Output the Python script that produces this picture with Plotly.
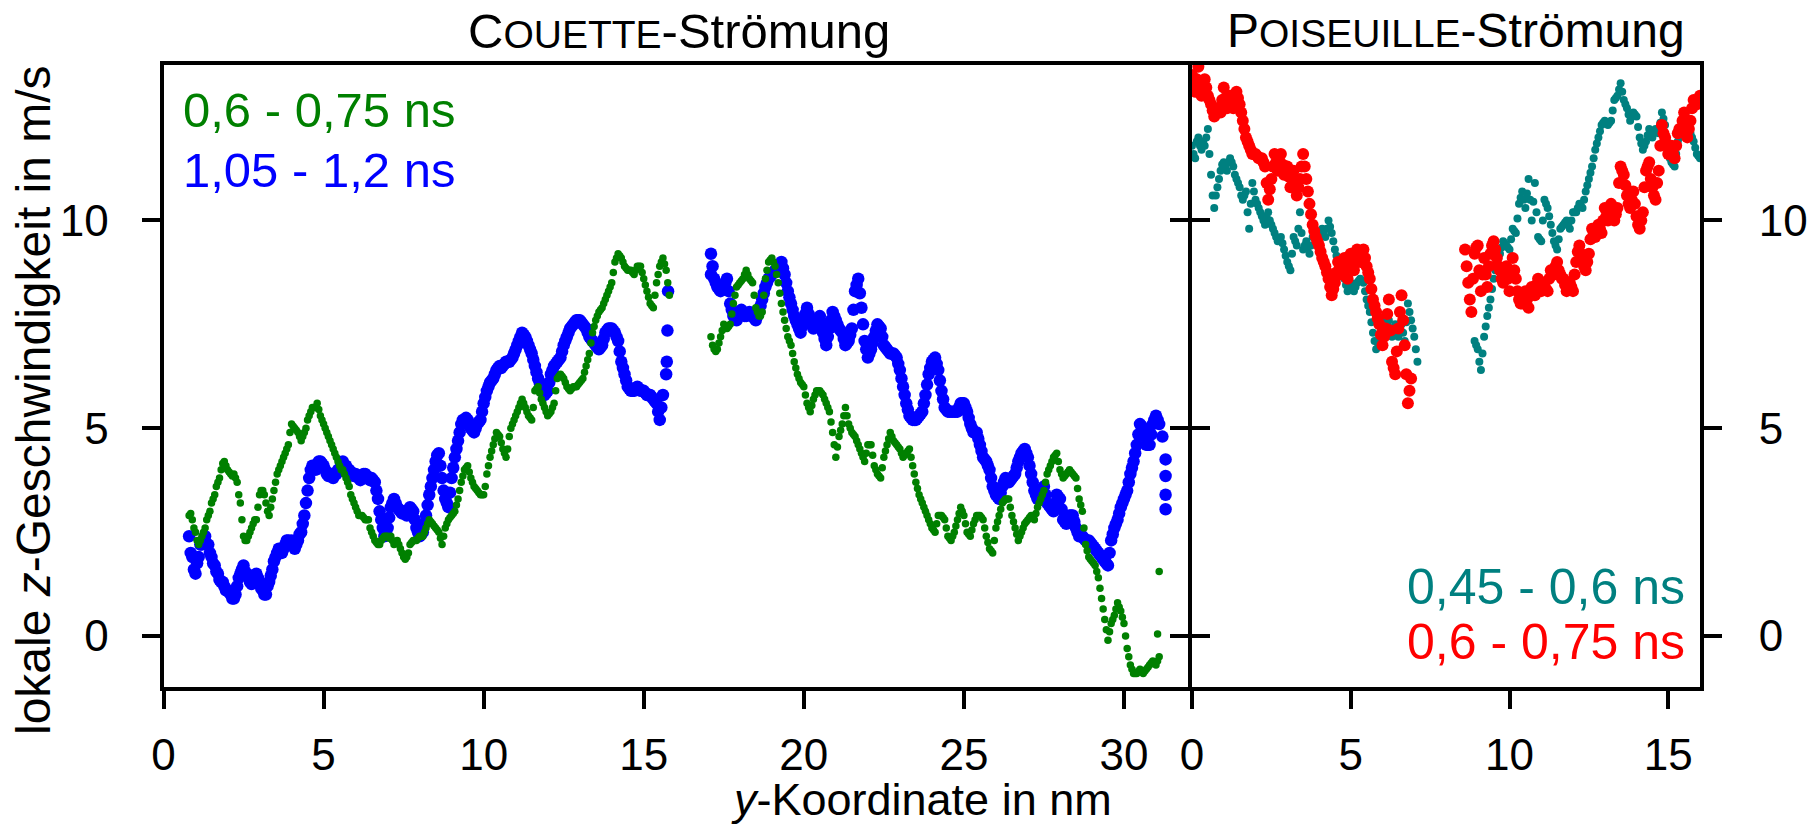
import numpy as np
import plotly.graph_objects as go

# ---------------- data: local z-velocity (m/s) vs y-coordinate (nm) ----------------
# Each segment is sampled on a 0.1 nm grid ("main") plus the values read at the
# half-steps in between ("mid", starting 0.05 nm after the segment start).
STEP = 0.1

# Couette flow, 0.6 - 0.75 ns (green)
couette_green_a_start = 0.8
couette_green_a_main = [
    2.9, 2.8, 2.5, 2.2, 2.4, 2.6, 2.9, 3.2, 3.4, 3.7,
    4.0, 4.2, 4.0, 3.9, 3.9, 3.7, 3.2, 2.4, 2.3, 2.5,
    2.7, 2.8, 3.4, 3.5, 3.2, 2.9, 3.3, 3.7, 4.0, 4.2,
    4.4, 4.6, 5.1, 5.0, 4.9, 4.7, 4.9, 5.2, 5.4, 5.5,
    5.6, 5.3, 5.1, 4.9, 4.7, 4.5, 4.3, 4.1, 4.0, 3.8,
    3.6, 3.3, 3.1, 2.9, 2.9, 2.8, 2.8, 2.5, 2.3, 2.2,
    2.3, 2.4, 2.4, 2.4, 2.2, 2.3, 2.1, 1.9, 1.9, 2.2,
    2.3, 2.3, 2.4, 2.4, 2.6, 2.8, 2.7, 2.6, 2.5, 2.2,
    2.6, 2.8, 2.9, 3.0, 3.3, 3.7, 4.0, 4.1, 3.8, 3.6,
    3.5, 3.4, 3.4, 3.9, 4.3, 4.6, 4.9, 4.8, 4.5, 4.3,
    4.8, 5.1, 5.3, 5.5, 5.7, 5.5, 5.3, 5.2, 5.9, 6.0,
    5.7, 5.5, 5.3, 5.4, 5.6, 6.2, 6.3, 6.2, 6.0, 5.9,
    6.0, 6.0, 6.1, 6.2, 6.5, 6.8, 7.3, 7.6, 7.8, 7.9,
    8.1, 8.3, 8.5, 9.0, 9.2, 9.1, 8.9, 8.8, 8.8, 8.7,
    8.9, 8.9, 8.6, 8.3, 8.0, 7.9, 8.5, 8.9, 9.1, 8.8,
    8.2,
]
couette_green_a_mid = [
    2.95, 2.6, 2.3, 2.3, 2.5, 2.8, 3.0, 3.3, 3.6, 3.8,
    4.15, 4.1, 3.95, 3.85, 3.8, 3.4, 2.8, 2.3, 2.4, 2.6,
    2.8, 3.1, 3.5, 3.4, 3.0, 3.1, 3.5, 3.9, 4.1, 4.3,
    4.5, 4.9, 5.05, 4.95, 4.8, 4.8, 5.0, 5.3, 5.5, 5.5,
    5.45, 5.2, 5.0, 4.8, 4.6, 4.4, 4.2, 4.0, 3.9, 3.7,
    3.4, 3.2, 3.0, 2.9, 2.85, 2.8, 2.6, 2.4, 2.25, 2.2,
    2.35, 2.4, 2.35, 2.3, 2.25, 2.2, 2.0, 1.85, 2.0, 2.25,
    2.3, 2.35, 2.4, 2.5, 2.7, 2.75, 2.65, 2.55, 2.35, 2.4,
    2.7, 2.85, 2.95, 3.15, 3.5, 3.85, 4.05, 3.95, 3.7, 3.55,
    3.45, 3.4, 3.6, 4.1, 4.45, 4.75, 4.85, 4.65, 4.4, 4.5,
    5.0, 5.2, 5.4, 5.6, 5.6, 5.4, 5.25, 5.5, 5.95, 5.85,
    5.6, 5.4, 5.35, 5.5, 5.9, 6.25, 6.25, 6.1, 5.95, 5.95,
    6.0, 6.05, 6.15, 6.35, 6.65, 7.05, 7.45, 7.7, 7.85, 8.0,
    8.2, 8.4, 8.75, 9.1, 9.15, 9.0, 8.85, 8.8, 8.75, 8.8,
    8.9, 8.75, 8.45, 8.15, 7.95, 8.2, 8.7, 9.0, 8.95, 8.5,
]
couette_green_b_start = 17.1
couette_green_b_main = [
    7.2, 6.9, 6.9, 7.2, 7.5, 7.4, 7.5, 8.0, 8.4, 8.5,
    8.6, 8.8, 8.6, 8.5, 7.9, 7.7, 7.8, 8.6, 9.0, 9.1,
    8.9, 8.5, 8.0, 7.6, 7.2, 7.0, 6.6, 6.3, 6.1, 6.0,
    5.6, 5.4, 5.7, 5.9, 5.9, 5.8, 5.6, 5.4, 4.9, 4.3,
    4.8, 5.1, 5.5, 5.1, 4.9, 4.8, 4.6, 4.4, 4.2, 4.6,
    4.6, 4.1, 3.9, 3.8, 4.3, 4.6, 4.9, 4.7, 4.6, 4.5,
    4.3, 4.4, 4.5, 4.1, 3.7, 3.4, 3.2, 3.0, 2.8, 2.6,
    2.5, 2.9, 2.9, 2.8, 2.4, 2.3, 2.5, 2.8, 3.1, 2.9,
    2.5, 2.4, 2.7, 2.9, 2.9, 2.8, 2.4, 2.1, 2.0, 2.6,
    2.9, 3.2, 3.3, 3.3, 2.9, 2.6, 2.3, 2.5, 2.7, 2.8,
    2.9, 2.8, 3.1, 3.3, 3.5, 3.9, 4.1, 4.3, 4.4, 4.0,
    3.8, 3.9, 4.0, 3.9, 3.8, 3.3, 3.0, 2.2, 1.9, 1.8,
    1.7, 1.4, 0.9, 0.4, -0.1, 0.3, 0.5, 0.8, 0.6, 0.3,
    -0.3, -0.7, -0.9, -0.9, -0.8, -0.9, -0.8, -0.7, -0.6, -0.7,
    -0.5,
]
couette_green_b_mid = [
    7.0, 6.85, 7.05, 7.35, 7.45, 7.45, 7.75, 8.2, 8.45, 8.55,
    8.7, 8.7, 8.55, 8.2, 7.8, 7.7, 8.2, 8.8, 9.05, 9.0,
    8.7, 8.25, 7.8, 7.4, 7.1, 6.8, 6.45, 6.2, 6.05, 5.8,
    5.5, 5.55, 5.8, 5.9, 5.85, 5.7, 5.5, 5.15, 4.6, 4.55,
    4.95, 5.3, 5.3, 5.0, 4.85, 4.7, 4.5, 4.3, 4.4, 4.6,
    4.35, 4.0, 3.85, 4.05, 4.45, 4.75, 4.8, 4.65, 4.55, 4.4,
    4.35, 4.45, 4.3, 3.9, 3.55, 3.3, 3.1, 2.9, 2.7, 2.55,
    2.7, 2.9, 2.85, 2.6, 2.35, 2.4, 2.65, 2.95, 3.0, 2.7,
    2.45, 2.55, 2.8, 2.9, 2.85, 2.6, 2.25, 2.05, 2.3, 2.75,
    3.05, 3.25, 3.3, 3.1, 2.75, 2.45, 2.4, 2.6, 2.75, 2.85,
    2.85, 2.95, 3.2, 3.4, 3.7, 4.0, 4.2, 4.35, 4.2, 3.9,
    3.85, 3.95, 3.95, 3.85, 3.55, 3.15, 2.6, 2.05, 1.85, 1.75,
    1.55, 1.15, 0.65, 0.15, 0.1, 0.4, 0.65, 0.7, 0.45, 0.0,
    -0.5, -0.8, -0.9, -0.85, -0.85, -0.85, -0.75, -0.65, -0.65, -0.6,
]
couette_green_extra_x = [31.05, 31.1]
couette_green_extra_y = [0.05, 1.55]

# Couette flow, 1.05 - 1.2 ns (blue)
couette_blue_a_start = 0.8
couette_blue_a_main = [
    2.4, 1.9, 1.5, 1.9, 2.2, 2.4, 2.2, 1.9, 1.7, 1.5,
    1.3, 1.2, 1.1, 1.0, 0.9, 1.2, 1.5, 1.7, 1.5, 1.3,
    1.3, 1.5, 1.3, 1.1, 1.0, 1.3, 1.6, 1.9, 2.1, 2.0,
    2.2, 2.3, 2.3, 2.1, 2.3, 2.5, 2.9, 3.5, 4.0, 4.1,
    4.1, 4.2, 4.1, 3.9, 3.9, 3.8, 3.9, 4.0, 4.2, 4.1,
    4.0, 3.9, 3.9, 3.8, 3.8, 3.9, 3.8, 3.8, 3.7, 3.3,
    2.8, 2.4, 2.6, 3.1, 3.3, 3.1, 3.0, 3.0, 2.9, 3.1,
    3.0, 2.6, 2.4, 2.5, 2.9, 3.4, 3.8, 4.2, 4.4, 3.8,
    3.3, 3.1, 3.8, 4.3, 4.7, 5.1, 5.2, 5.2, 5.0, 4.9,
    5.1, 5.2, 5.6, 5.9, 6.1, 6.2, 6.4, 6.5, 6.5, 6.6,
    6.6, 6.7, 6.9, 7.1, 7.3, 7.2, 7.0, 6.8, 6.5, 6.2,
    6.0, 5.8, 5.9, 6.3, 6.5, 6.6, 6.7, 7.0, 7.2, 7.4,
    7.5, 7.6, 7.6, 7.5, 7.4, 7.2, 7.1, 7.0, 6.9, 7.0,
    7.3, 7.4, 7.4, 7.3, 7.1, 6.6, 6.3, 6.0, 5.9, 5.9,
    6.0, 5.9, 5.9, 5.8, 5.8, 5.7, 5.6, 5.2, 5.8,
]
couette_blue_a_mid = [
    2.0, 1.6, 1.75, 2.2, 2.3, 2.2, 2.0, 1.75, 1.55, 1.35,
    1.3, 1.1, 1.05, 0.9, 1.0, 1.4, 1.6, 1.55, 1.4, 1.25,
    1.45, 1.4, 1.15, 1.0, 1.2, 1.45, 1.8, 2.0, 2.0, 2.1,
    2.3, 2.2, 2.2, 2.2, 2.45, 2.7, 3.2, 3.8, 4.1, 4.0,
    4.2, 4.15, 4.0, 3.85, 3.9, 3.9, 4.0, 4.15, 4.1, 4.0,
    3.95, 3.85, 3.85, 3.75, 3.9, 3.85, 3.75, 3.75, 3.5, 3.0,
    2.6, 2.5, 2.85, 3.2, 3.2, 3.05, 2.95, 2.95, 3.0, 3.05,
    2.8, 2.5, 2.45, 2.7, 3.15, 3.6, 4.0, 4.35, 4.1, 3.5,
    3.2, 3.45, 4.05, 4.5, 4.9, 5.2, 5.25, 5.1, 4.95, 5.0,
    5.15, 5.4, 5.75, 6.0, 6.15, 6.3, 6.45, 6.45, 6.55, 6.6,
    6.65, 6.8, 7.0, 7.2, 7.25, 7.1, 6.9, 6.65, 6.35, 6.1,
    5.9, 5.85, 6.1, 6.4, 6.55, 6.65, 6.85, 7.1, 7.3, 7.45,
    7.55, 7.6, 7.55, 7.45, 7.3, 7.15, 7.05, 6.95, 6.95, 7.15,
    7.35, 7.4, 7.35, 7.2, 6.85, 6.45, 6.15, 5.95, 5.9, 5.95,
    5.95, 5.9, 5.85, 5.8, 5.75, 5.65, 5.4, 5.5,
]
couette_blue_a_tail_x = [15.7, 15.72, 15.74, 15.76]
couette_blue_a_tail_y = [6.3, 6.6, 7.35, 8.3]
couette_blue_b_start = 17.1
couette_blue_b_main = [
    9.2, 8.6, 8.4, 8.3, 8.4, 8.6, 8.0, 7.7, 7.6, 7.8,
    7.8, 7.7, 7.8, 7.7, 7.6, 7.8, 8.1, 8.4, 8.6, 8.7,
    8.8, 8.8, 9.0, 8.7, 8.3, 8.0, 7.7, 7.5, 7.3, 7.6,
    7.9, 7.6, 7.4, 7.5, 7.7, 7.3, 7.0, 7.4, 7.8, 7.6,
    7.4, 7.3, 7.0, 7.1, 7.4, 8.3, 8.6, 7.9, 7.1, 6.7,
    6.9, 7.2, 7.5, 7.4, 7.0, 6.9, 6.8, 6.8, 6.7, 6.4,
    6.0, 5.6, 5.3, 5.2, 5.2, 5.3, 5.4, 5.8, 6.3, 6.6,
    6.7, 6.4, 5.9, 5.5, 5.4, 5.4, 5.4, 5.4, 5.6, 5.6,
    5.4, 5.1, 4.9, 4.9, 4.6, 4.3, 4.2, 4.0, 3.6, 3.4,
    3.3, 3.6, 3.8, 3.7, 3.8, 3.9, 4.2, 4.4, 4.5, 4.3,
    3.9, 3.5, 3.3, 3.5, 3.6, 3.2, 3.1, 3.0, 3.4, 3.3,
    2.8, 2.7, 2.9, 2.9, 2.6, 2.4, 2.4, 2.3, 2.3, 2.2,
    2.1, 2.0, 1.9, 1.8, 1.7, 2.3, 2.6, 2.8, 3.1, 3.3,
    3.5, 3.9, 4.2, 4.6, 5.1, 5.0, 4.6, 4.6, 5.1, 5.3,
    5.1,
]
couette_blue_b_mid = [
    8.9, 8.5, 8.35, 8.35, 8.5, 8.3, 7.85, 7.65, 7.7, 7.85,
    7.7, 7.75, 7.75, 7.65, 7.7, 7.95, 8.25, 8.5, 8.65, 8.75,
    8.8, 8.9, 8.85, 8.5, 8.15, 7.85, 7.6, 7.4, 7.45, 7.75,
    7.75, 7.5, 7.45, 7.6, 7.5, 7.15, 7.2, 7.6, 7.7, 7.5,
    7.35, 7.15, 7.05, 7.25, 7.85, 8.45, 8.25, 7.5, 6.9, 6.8,
    7.05, 7.35, 7.45, 7.2, 6.95, 6.85, 6.8, 6.75, 6.55, 6.2,
    5.8, 5.45, 5.25, 5.2, 5.25, 5.35, 5.6, 6.05, 6.45, 6.65,
    6.55, 6.15, 5.7, 5.45, 5.4, 5.4, 5.4, 5.5, 5.6, 5.5,
    5.25, 5.0, 4.9, 4.75, 4.45, 4.25, 4.1, 3.8, 3.5, 3.35,
    3.45, 3.7, 3.75, 3.75, 3.85, 4.05, 4.3, 4.45, 4.4, 4.1,
    3.7, 3.4, 3.4, 3.55, 3.4, 3.15, 3.05, 3.2, 3.35, 3.05,
    2.75, 2.8, 2.9, 2.75, 2.5, 2.4, 2.35, 2.3, 2.25, 2.15,
    2.05, 1.95, 1.85, 1.75, 2.0, 2.45, 2.7, 2.95, 3.2, 3.4,
    3.7, 4.05, 4.4, 4.85, 5.05, 4.8, 4.6, 4.85, 5.2, 5.2,
]
couette_blue_b_extra_x = [17.1, 31.2, 31.3, 31.3, 31.3, 31.3]
couette_blue_b_extra_y = [8.7, 4.8, 4.25, 3.85, 3.4, 3.05]

# Poiseuille flow, 0.45 - 0.6 ns (teal)
poiseuille_teal_a_start = 0.0
poiseuille_teal_a_main = [
    11.8, 11.5, 12.0, 11.7, 11.8, 12.2, 11.1, 10.3, 10.8, 11.2,
    11.4, 11.2, 11.5, 11.3, 11.0, 10.8, 10.5, 10.7, 9.8, 10.9,
    10.5, 10.3, 10.1, 9.9, 10.2, 9.9, 9.7, 9.5, 9.6, 9.3,
    9.0, 8.8, 9.6, 9.4, 10.2, 9.3, 9.5, 9.2, 9.6, 9.7,
    9.5, 9.8, 9.6, 10.0, 9.7, 9.3, 9.0, 8.8, 8.6, 8.3,
    8.5, 8.3, 8.5, 8.6, 8.5, 8.1, 7.8, 7.3, 6.9, 7.2,
    7.6, 7.4, 7.6, 7.2, 7.5, 7.2, 7.5, 7.1, 8.0, 7.6,
    7.2, 6.6,
]
poiseuille_teal_a_mid = [
    11.6, 11.9, 11.8, 11.9, 12.0, 11.6, 10.6, 10.6, 11.0, 11.35,
    11.3, 11.4, 11.4, 11.1, 10.9, 10.6, 10.6, 10.2, 10.4, 10.7,
    10.4, 10.2, 10.0, 10.1, 10.0, 9.8, 9.6, 9.55, 9.45, 9.15,
    8.9, 9.2, 9.5, 9.8, 9.7, 9.4, 9.35, 9.4, 9.65, 9.6,
    9.65, 9.7, 9.8, 9.85, 9.5, 9.15, 8.9, 8.7, 8.45, 8.4,
    8.4, 8.4, 8.55, 8.55, 8.3, 7.95, 7.55, 7.1, 7.05, 7.4,
    7.5, 7.5, 7.4, 7.35, 7.35, 7.35, 7.3, 7.55, 7.8, 7.4,
    6.9,
]
poiseuille_teal_b_start = 8.9
poiseuille_teal_b_main = [
    7.1, 6.9, 6.4, 7.2, 7.7, 8.1, 8.6, 9.0, 9.2, 9.5,
    9.4, 9.3, 9.8, 9.7, 10.4, 10.7, 10.3, 11.0, 10.0, 10.9,
    9.6, 9.5, 10.5, 10.3, 9.9, 9.5, 9.3, 9.8, 9.9, 10.0,
    9.8, 10.2, 10.2, 10.4, 10.3, 10.7, 11.0, 11.3, 11.7, 12.0,
    12.3, 12.4, 12.3, 12.4, 12.9, 13.0, 13.3, 12.9, 12.7, 12.4,
    12.6, 12.5, 12.0, 11.7, 11.9, 12.2, 12.0, 12.2, 12.1, 12.6,
    12.3, 11.6, 11.4, 11.3, 11.9, 12.1, 12.2, 12.0, 12.1, 11.9,
    11.6, 11.5,
]
poiseuille_teal_b_mid = [
    7.0, 6.6, 6.8, 7.45, 7.9, 8.35, 8.8, 9.1, 9.35, 9.45,
    9.35, 9.55, 9.75, 10.05, 10.55, 10.5, 10.65, 10.5, 10.45, 10.2,
    9.55, 10.0, 10.4, 10.1, 9.7, 9.4, 9.55, 9.85, 9.95, 9.9,
    10.0, 10.2, 10.3, 10.35, 10.5, 10.85, 11.15, 11.5, 11.85, 12.15,
    12.35, 12.35, 12.35, 12.65, 12.95, 13.15, 13.1, 12.8, 12.55, 12.5,
    12.55, 12.25, 11.85, 11.8, 12.05, 12.1, 12.1, 12.15, 12.35, 12.45,
    11.95, 11.5, 11.35, 11.6, 12.0, 12.15, 12.1, 12.05, 12.0, 11.75,
    11.55,
]

# Poiseuille flow, 0.6 - 0.75 ns (red)
poiseuille_red_a_start = 0.0
poiseuille_red_a_main = [
    13.5, 13.1, 13.7, 13.0, 13.4, 13.0, 12.8, 12.5, 12.7, 12.6,
    13.2, 12.7, 13.0, 12.7, 13.1, 12.8, 12.4, 12.0, 11.8, 11.6,
    11.6, 11.5, 11.5, 11.3, 10.5, 11.0, 11.6, 11.2, 11.6, 11.1,
    11.3, 10.8, 11.2, 10.6, 11.0, 11.6, 11.0, 10.4, 9.9, 9.6,
    9.4, 9.1, 8.9, 8.6, 8.2, 8.5, 9.0, 8.7, 9.1, 8.6,
    9.2, 8.8, 9.3, 9.0, 9.3, 8.9, 8.6, 8.1, 7.8, 7.5,
    7.0, 7.4, 8.1, 6.6, 6.3, 7.4, 8.2, 7.0, 5.6, 6.2,
]
poiseuille_red_a_mid = [
    13.3, 13.4, 13.35, 13.2, 13.2, 12.9, 12.65, 12.6, 12.65, 12.9,
    12.95, 12.85, 12.85, 12.9, 12.95, 12.6, 12.2, 11.9, 11.7, 11.6,
    11.55, 11.5, 11.4, 10.9, 10.75, 11.3, 11.4, 11.4, 11.35, 11.2,
    11.05, 11.0, 10.9, 10.8, 11.3, 11.3, 10.7, 10.15, 9.75, 9.5,
    9.25, 9.0, 8.75, 8.4, 8.35, 8.75, 8.85, 8.9, 8.85, 8.9,
    9.0, 9.05, 9.15, 9.15, 9.1, 8.75, 8.35, 7.95, 7.65, 7.25,
    7.2, 7.75, 7.35, 6.45, 6.85, 7.8, 7.6, 6.3, 5.9,
]
poiseuille_red_b_start = 8.6
poiseuille_red_b_main = [
    9.3, 8.5, 7.8, 9.2, 9.4, 8.3, 9.1, 8.4, 9.2, 9.5,
    9.1, 8.8, 8.5, 8.9, 8.3, 9.1, 8.6, 8.1, 8.0, 8.3,
    7.9, 8.4, 8.2, 8.6, 8.3, 8.5, 8.3, 8.8, 8.7, 9.0,
    8.7, 8.6, 8.3, 8.5, 8.3, 9.0, 9.4, 9.1, 8.8, 9.2,
    9.8, 9.6, 9.9, 9.7, 10.3, 10.0, 10.4, 10.0, 10.3, 11.3,
    11.1, 10.6, 10.3, 10.7, 10.1, 9.8, 10.2, 11.2, 11.4, 10.8,
    10.5, 11.2, 12.3, 12.0, 11.6, 11.8, 11.5, 12.1, 12.2, 12.6,
    12.0, 12.4, 12.9, 12.8, 13.0,
]
poiseuille_red_b_mid = [
    8.9, 8.1, 8.6, 9.35, 8.8, 8.7, 8.7, 8.9, 9.4, 9.3,
    8.9, 8.6, 8.75, 8.6, 8.7, 8.8, 8.3, 8.0, 8.15, 8.1,
    8.2, 8.3, 8.45, 8.4, 8.45, 8.35, 8.6, 8.7, 8.9, 8.8,
    8.6, 8.45, 8.4, 8.4, 8.7, 9.25, 9.2, 8.9, 9.0, 9.55,
    9.7, 9.75, 9.8, 10.0, 10.1, 10.2, 10.2, 10.15, 10.9, 11.2,
    10.85, 10.4, 10.5, 10.4, 9.9, 10.0, 10.8, 11.3, 11.0, 10.6,
    10.9, 11.8, 12.1, 11.8, 11.7, 11.6, 11.8, 12.2, 12.4, 12.3,
    12.2, 12.7, 12.85, 12.9,
]

x_ticks_couette = [0, 5, 10, 15, 20, 25, 30]
x_ticks_poiseuille = [0, 5, 10, 15]
y_ticks = [0, 5, 10]


def grid(start, values):
    return np.round(start + STEP * np.arange(len(values)), 3)


def segment(start, main, mid):
    xs = np.concatenate([grid(start, main), grid(start + STEP / 2, mid)])
    ys = list(main) + list(mid)
    return list(xs), ys


GREEN = "#008000"
BLUE = "#0000ff"
TEAL = "#008080"
RED = "#ff0000"
FONT = "Liberation Sans, Arial, sans-serif"

W, H = 1820, 827


def px(x):
    return x / W


def py(y):
    return 1 - y / H


fig = go.Figure()


def add_points(xs, ys, color, size, xa, ya):
    fig.add_trace(go.Scatter(x=list(xs), y=list(ys), mode="markers", xaxis=xa, yaxis=ya,
                             hoverinfo="skip",
                             marker=dict(color=color, size=size, line=dict(width=0))))


S_BLUE, S_GREEN, S_TEAL, S_RED = 12.5, 7.5, 8, 12

# left panel: blue below, green on top
add_points(*segment(couette_blue_a_start, couette_blue_a_main, couette_blue_a_mid), BLUE, S_BLUE, "x", "y")
add_points(couette_blue_a_tail_x, couette_blue_a_tail_y, BLUE, S_BLUE, "x", "y")
add_points(*segment(couette_blue_b_start, couette_blue_b_main, couette_blue_b_mid), BLUE, S_BLUE, "x", "y")
add_points(couette_blue_b_extra_x, couette_blue_b_extra_y, BLUE, S_BLUE, "x", "y")
add_points(*segment(couette_green_a_start, couette_green_a_main, couette_green_a_mid), GREEN, S_GREEN, "x", "y")
add_points(*segment(couette_green_b_start, couette_green_b_main, couette_green_b_mid), GREEN, S_GREEN, "x", "y")
add_points(couette_green_extra_x, couette_green_extra_y, GREEN, S_GREEN, "x", "y")

# right panel: teal below, red on top
add_points(*segment(poiseuille_teal_a_start, poiseuille_teal_a_main, poiseuille_teal_a_mid), TEAL, S_TEAL, "x2", "y2")
add_points(*segment(poiseuille_teal_b_start, poiseuille_teal_b_main, poiseuille_teal_b_mid), TEAL, S_TEAL, "x2", "y2")
add_points(*segment(poiseuille_red_a_start, poiseuille_red_a_main, poiseuille_red_a_mid), RED, S_RED, "x2", "y2")
add_points(*segment(poiseuille_red_b_start, poiseuille_red_b_main, poiseuille_red_b_mid), RED, S_RED, "x2", "y2")

# plot-area edges in pixels (axis lines are drawn 2 px outside these edges)
left0, left1 = 163.5, 1188
right0, right1 = 1192, 1700
top, bottom = 65, 687
y_range = [-1.227, 13.742]

axis_common = dict(showline=True, linewidth=4, linecolor="black", ticks="outside",
                   ticklen=18, tickwidth=4, tickcolor="black", showgrid=False,
                   zeroline=False, automargin=False,
                   tickfont=dict(family=FONT, size=44, color="black"))

fig.update_layout(
    width=W, height=H,
    margin=dict(l=0, r=0, t=0, b=0, autoexpand=False),
    paper_bgcolor="white", plot_bgcolor="white",
    showlegend=False,
    xaxis=dict(domain=[px(left0), px(left1)], range=[0, 32], tickvals=x_ticks_couette,
               mirror=True, anchor="y", ticklabelstandoff=8, **axis_common),
    yaxis=dict(domain=[py(bottom), py(top)], range=y_range, tickvals=y_ticks,
               mirror="ticks", anchor="x", ticklabelstandoff=24, **axis_common),
    xaxis2=dict(domain=[px(right0), px(right1)], range=[0, 16], tickvals=x_ticks_poiseuille,
                mirror=True, anchor="y2", ticklabelstandoff=8, **axis_common),
    yaxis2=dict(domain=[py(bottom), py(top)], range=y_range, tickvals=y_ticks,
                mirror="ticks", anchor="x2", side="right", ticklabelstandoff=28,
                **axis_common),
)

annotations = [
    dict(text="C<span style='font-size:39px'>OUETTE</span>-Strömung",
         x=px(679), y=py(31), font=dict(size=49, color="black")),
    dict(text="P<span style='font-size:39px'>OISEUILLE</span>-Strömung",
         x=px(1456), y=py(31), font=dict(size=48, color="black")),
    dict(text="lokale <i>z</i>-Geschwindigkeit in m/s", x=px(33), y=py(400),
         textangle=-90, font=dict(size=48, color="black")),
    dict(text="<i>y</i>-Koordinate in nm", x=px(921), y=py(799),
         font=dict(size=45, color="black")),
    dict(text="0,6 - 0,75 ns", x=px(181), y=py(110), xanchor="left",
         font=dict(size=49, color=GREEN)),
    dict(text="1,05 - 1,2 ns", x=px(181), y=py(170), xanchor="left",
         font=dict(size=49, color=BLUE)),
    dict(text="0,45 - 0,6 ns", x=px(1687), y=py(587), xanchor="right",
         font=dict(size=50, color=TEAL)),
    dict(text="0,6 - 0,75 ns", x=px(1687), y=py(642), xanchor="right",
         font=dict(size=50, color=RED)),
]
for a in annotations:
    a.setdefault("xanchor", "center")
    a["font"] = dict(family=FONT, **a["font"])
    fig.add_annotation(xref="paper", yref="paper", showarrow=False, yanchor="middle", **a)

fig.write_html("out.html")
